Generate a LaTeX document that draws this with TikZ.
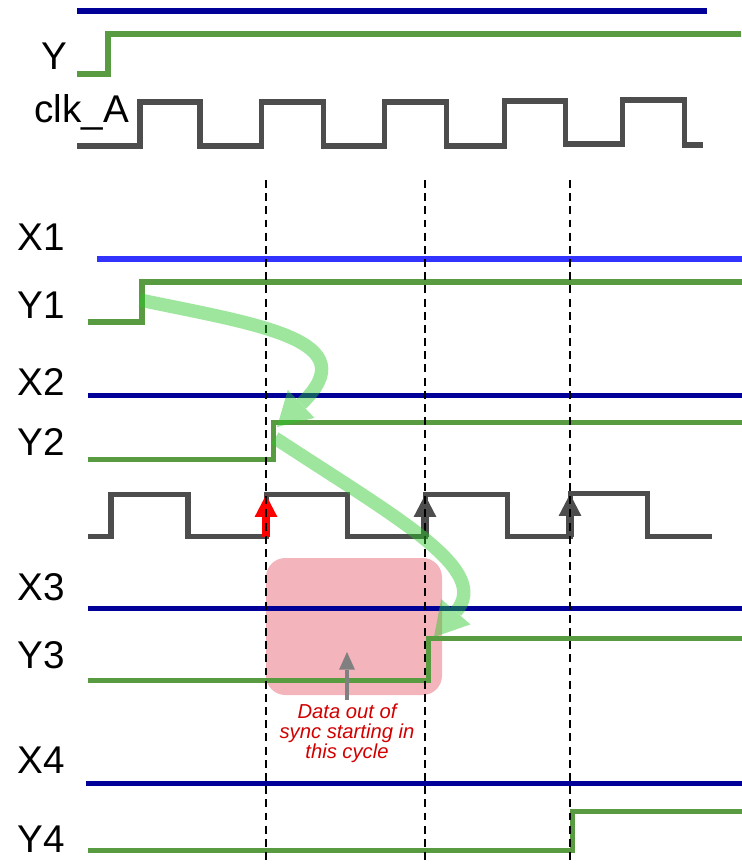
\documentclass[tikz,border=0pt]{standalone}
\usepackage{fontspec}
\setmainfont{Liberation Sans}
\usetikzlibrary{arrows.meta}
\definecolor{xblue}{RGB}{0,0,153}
\definecolor{xlight}{RGB}{51,51,255}
\definecolor{ygreen}{RGB}{89,155,64}
\definecolor{clkgrey}{RGB}{77,77,77}
\definecolor{flowgreen}{RGB}{40,200,40}
\definecolor{syncpink}{RGB}{243,180,188}
\definecolor{notered}{RGB}{210,0,0}
\tikzstyle{signame} = [anchor=base west, inner sep=0pt, font=\fontsize{22}{22}\selectfont]
\tikzstyle{xsig} = [draw=xblue, line width=2.85pt]
\tikzstyle{ysig} = [draw=ygreen, line width=2.85pt]
\tikzstyle{clksig} = [draw=clkgrey, line width=2.85pt]
\tikzstyle{edgeline} = [black, line width=0.9pt, dash pattern=on 4.5pt off 3pt]
\tikzstyle{flow} = [draw=flowgreen, line width=7.6pt, -{Triangle[length=19pt,width=22pt,line width=0pt]}]
\tikzstyle{tick} = [line width=4.5pt, -{Triangle[length=12.5pt,width=13pt,line width=0pt]}]
\tikzstyle{note} = [text=notered, align=center, inner sep=0pt, font=\fontsize{11.5}{11.5}\selectfont\itshape]

\begin{document}
\begin{tikzpicture}[x=0.02cm, y=-0.02cm]
\useasboundingbox (0,0) rectangle (742,865);

\fill [syncpink, rounded corners=11pt] (266,558) rectangle (442,695);

\node (ylab) [signame] at (41,70) {Y};
\node (clklab) [signame] at (34,122) {clk\_A};
\node (x1lab) [signame] at (17,250) {X1};
\node (y1lab) [signame] at (17,318) {Y1};
\node (x2lab) [signame] at (17,395) {X2};
\node (y2lab) [signame] at (17,455) {Y2};
\node (x3lab) [signame] at (17,600) {X3};
\node (y3lab) [signame] at (17,668) {Y3};
\node (x4lab) [signame] at (17,773) {X4};
\node (y4lab) [signame] at (17,852) {Y4};

\draw [xsig] (77,11) -- (707,11);
\draw [ysig] (77,74) -- (108,74) -- (108,34) -- (741,34);
\draw [clksig] (77,146) -- (140,146) -- (140,102) -- (200,102) -- (200,146) -- (261,146) -- (261,102) -- (323,102) -- (323,146) -- (384,146) -- (384,102) -- (446,102) -- (446,146) -- (504,146) -- (504,101) -- (565,101) -- (565,144) -- (622,144) -- (622,100) -- (684,100) -- (684,145) -- (703,145);

\draw [xsig, draw=xlight] (97,259) -- (742,259);
\draw [ysig] (88,322) -- (142,322) -- (142,282) -- (742,282);
\draw [xsig] (88,395) -- (742,395);
\draw [ysig] (88,459) -- (273,459) -- (273,422) -- (742,422);
\draw [clksig] (88,536) -- (111,536) -- (111,494) -- (188,494) -- (188,536) -- (266,536) -- (266,494) -- (347,494) -- (347,536) -- (425,536) -- (425,494) -- (507,494) -- (507,536) -- (570,536) -- (570,493) -- (647,493) -- (647,536) -- (712,536);
\draw [xsig] (88,608) -- (742,608);
\draw [ysig] (88,680) -- (428,680) -- (428,638) -- (742,638);
\draw [xsig] (86,783) -- (742,783);
\draw [ysig] (88,850) -- (572,850) -- (572,811) -- (742,811);

\coordinate (e1low) at (266,537);
\coordinate (e1high) at (266,495);
\coordinate (e2low) at (425,537);
\coordinate (e2high) at (425,495);
\coordinate (e3low) at (570,537);
\coordinate (e3high) at (570,494);
\draw [tick, red] (e1low) -- (e1high);
\draw [tick, clkgrey] (e2low) -- (e2high);
\draw [tick, clkgrey] (e3low) -- (e3high);

\draw [edgeline] (266,180) -- (266,865);
\draw [edgeline] (425,180) -- (425,865);
\draw [edgeline] (570,180) -- (570,865);

\node (note) [note] at (347,733) {Data out of\\sync starting in\\this cycle};
\coordinate (syncfrom) at (347,700);
\coordinate (syncto) at (347,652);
\draw [line width=2.8pt, black!50, -{Triangle[length=10pt,width=9pt,line width=0pt]}] (syncfrom) -- (syncto);

\coordinate (y1rise) at (140,300);
\coordinate (y2rise) at (277,427);
\coordinate (y2from) at (275,438);
\coordinate (y3rise) at (434,637);
\begin{scope}[transparency group, opacity=0.45]
\draw [flow] (y1rise) .. controls (260,325) and (368,340) .. (y2rise);
\end{scope}
\begin{scope}[transparency group, opacity=0.45]
\draw [flow] (y2from) .. controls (400,520) and (492,570) .. (y3rise);
\end{scope}

\end{tikzpicture}
\end{document}
